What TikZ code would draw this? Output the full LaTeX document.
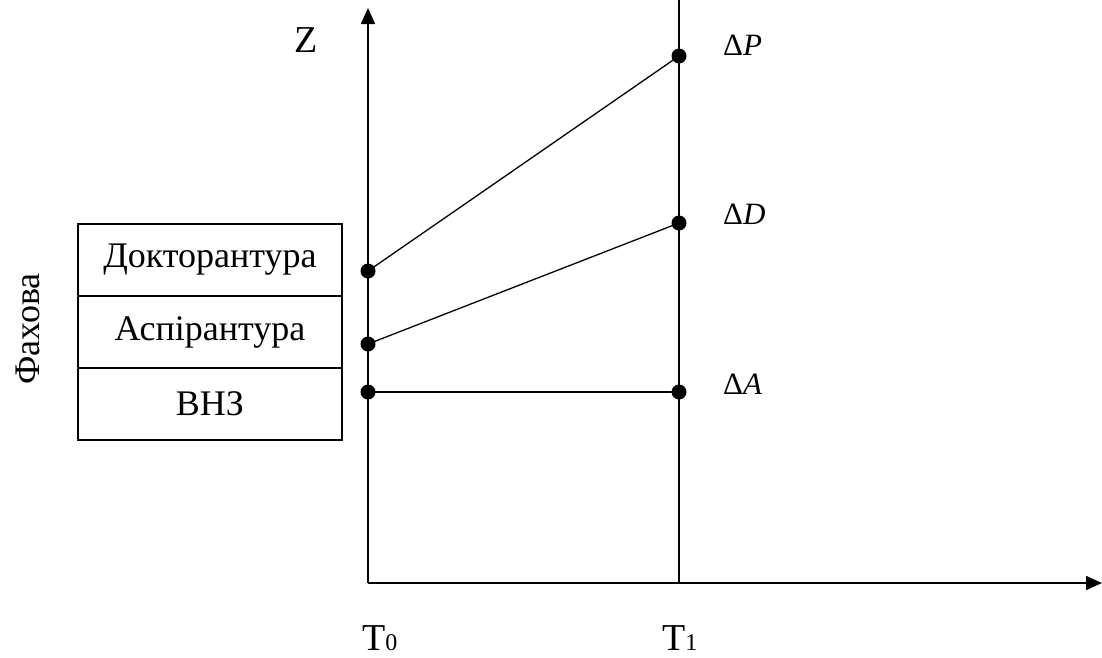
\documentclass[tikz,border=0pt]{standalone}
\usepackage{fontspec}
\setmainfont{Liberation Serif}
\usetikzlibrary{arrows.meta}
\begin{document}
\begin{tikzpicture}[x=1pt,y=-1pt,
  axis/.style={line width=1.6pt},
  conn/.style={line width=1.3pt},
  dot/.style={circle,fill=black,inner sep=0pt,minimum size=15pt},
  cell/.style={draw,line width=1.4pt,minimum width=264pt,minimum height=72pt,inner sep=0pt,font=\fontsize{36}{40}\selectfont},
  lbl/.style={font=\fontsize{31}{34}\selectfont,inner sep=0pt},
  big/.style={font=\fontsize{38}{42}\selectfont,inner sep=0pt}]
\useasboundingbox (0,0) rectangle (1102,657);
% axes
\coordinate (O) at (368,583);
\coordinate (Ytop) at (368,8);
\coordinate (Xend) at (1102,583);
\coordinate (T1top) at (679,0);
\coordinate (T1bot) at (679,583);
\draw[axis,-{Triangle[length=16pt,width=14pt]}] (O) -- (Ytop);
\draw[axis,-{Triangle[length=16pt,width=14pt]}] (O) -- (Xend);
\draw[axis] (T1bot) -- (T1top);
% dots
\node[dot] (a0) at (368,271) {};
\node[dot] (b0) at (368,344) {};
\node[dot] (c0) at (368,392) {};
\node[dot] (a1) at (679,56) {};
\node[dot] (b1) at (679,223) {};
\node[dot] (c1) at (679,392) {};
\draw[conn] (a0.center) -- (a1.center);
\draw[conn] (b0.center) -- (b1.center);
\draw[conn] (c0.center) -- (c1.center);
% boxes
\node[cell] (dok) at (210,260) {Докторантура};
\node[cell] (asp) at (210,332) {Аспірантура};
\node[cell] (vnz) at (210,404) {ВНЗ};
% labels
\node[big] (z) at (306,40) {Z};
\node[lbl,anchor=west] (dp) at (723,45) {Δ\textit{P}};
\node[lbl,anchor=west] (dd) at (723,214) {Δ\textit{D}};
\node[lbl,anchor=west] (da) at (723,384) {Δ\textit{A}};
\node[big,anchor=west] (t0) at (362,638) {T\fontsize{24}{28}\selectfont 0};
\node[big,anchor=west] (t1) at (662,638) {T\fontsize{24}{28}\selectfont 1};
\node[font=\fontsize{36}{40}\selectfont,inner sep=0pt,rotate=90] (fah) at (28,329) {Фахова};
\end{tikzpicture}
\end{document}
